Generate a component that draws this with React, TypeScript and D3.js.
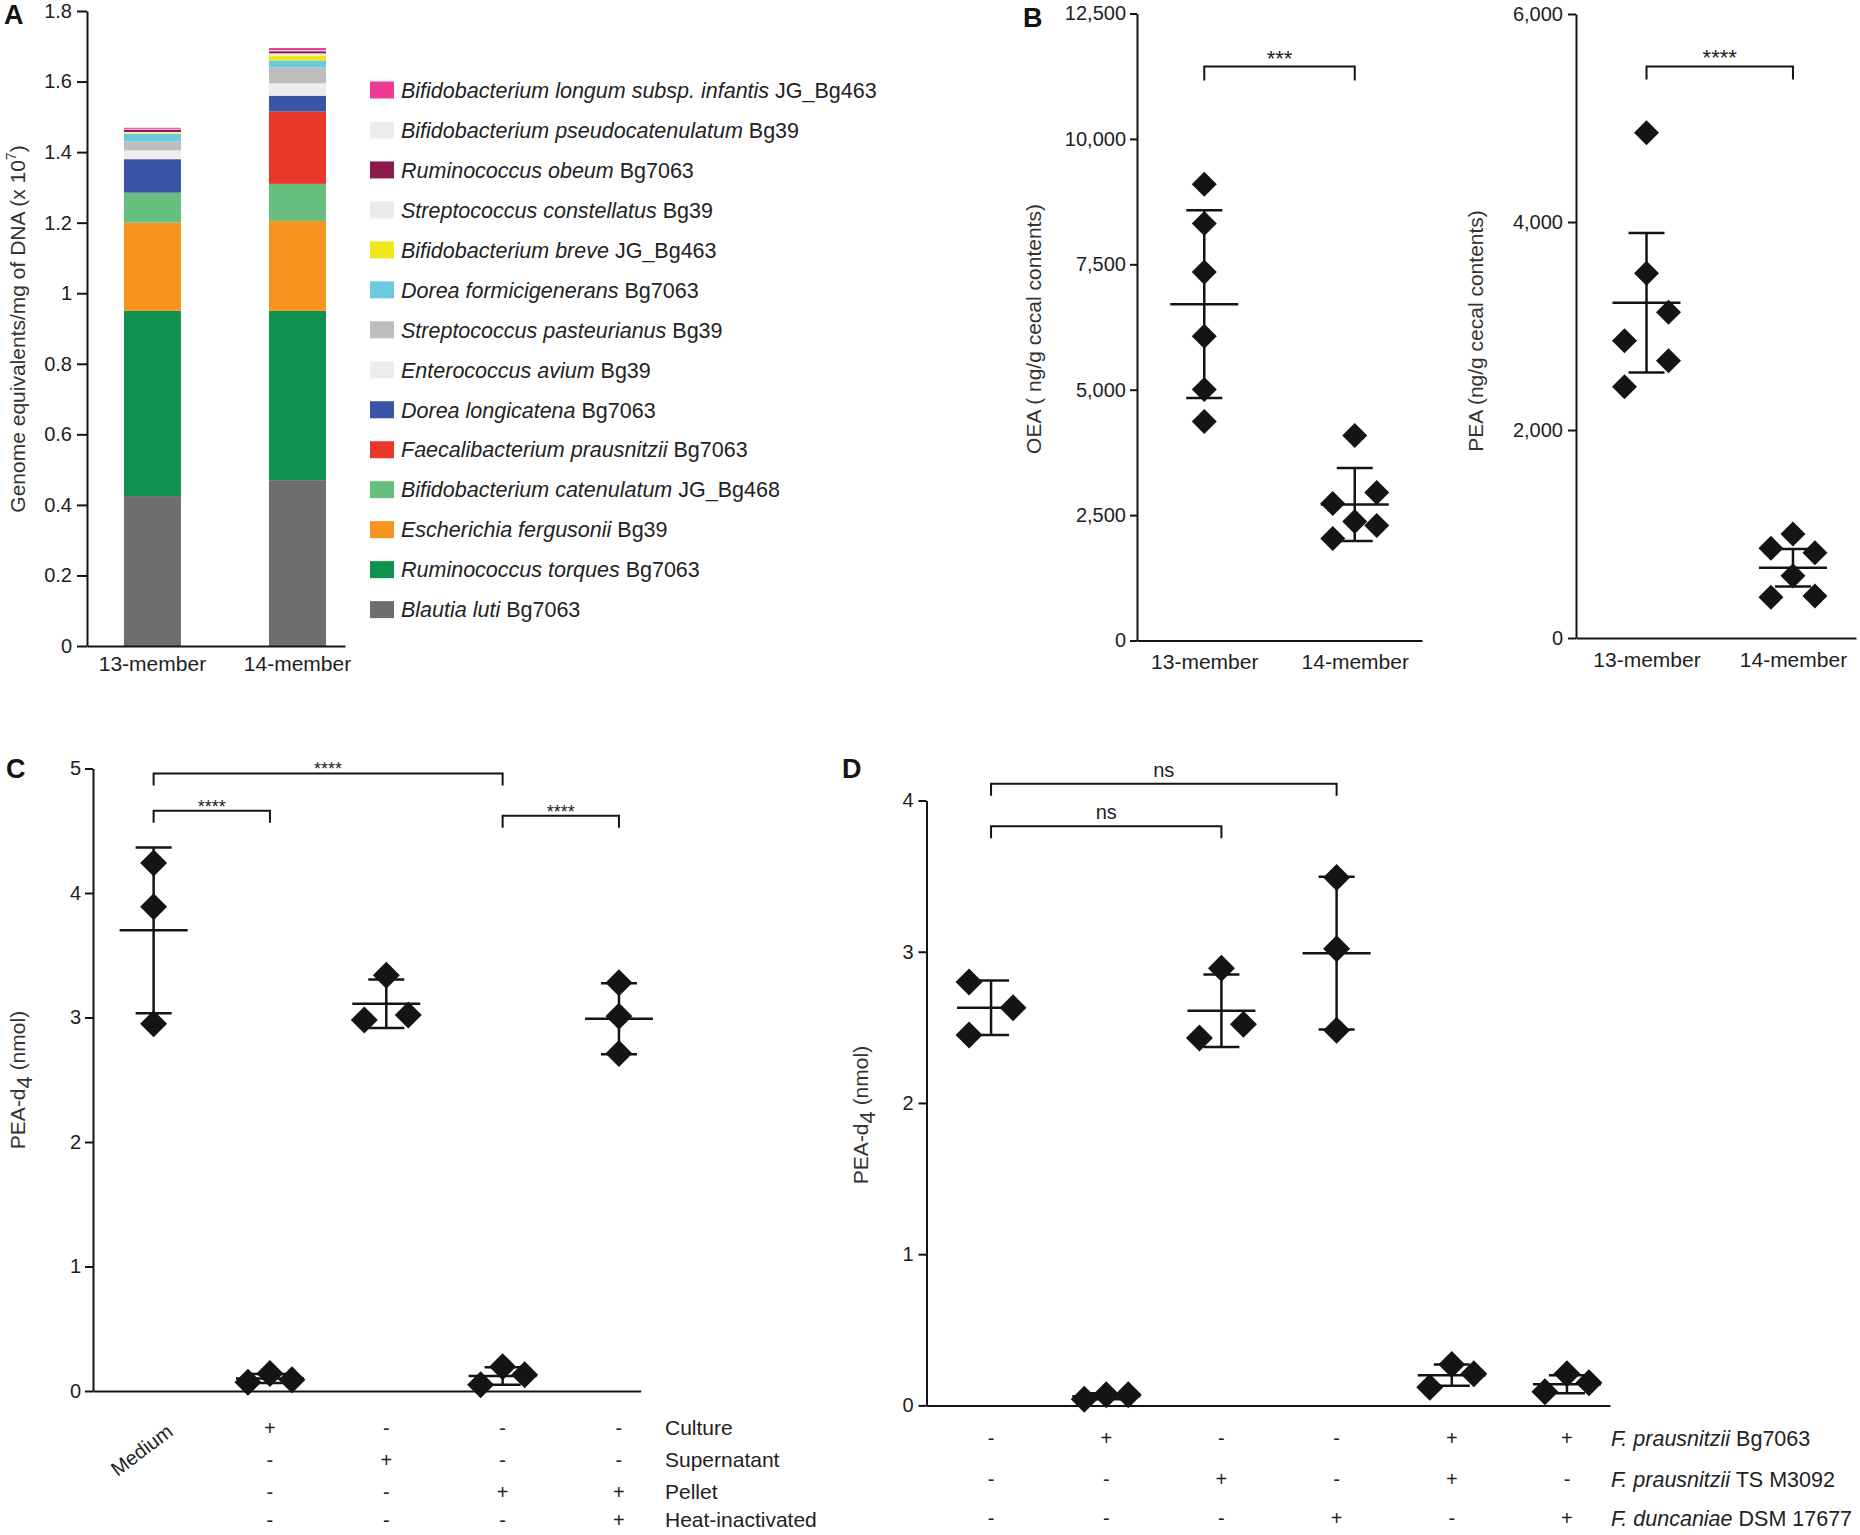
import React, { useEffect, useRef } from "react";
import * as d3 from "d3";

const FONT = "'Liberation Sans', Arial, Helvetica, sans-serif";
const INK = "#141414";

// ---------- panel A : genome equivalents, stacked bottom -> top
const communities = ["13-member", "14-member"];
const taxonSpecies = [
  "Blautia luti",
  "Ruminococcus torques",
  "Escherichia fergusonii",
  "Bifidobacterium catenulatum",
  "Faecalibacterium prausnitzii",
  "Dorea longicatena",
  "Enterococcus avium",
  "Streptococcus pasteurianus",
  "Dorea formicigenerans",
  "Bifidobacterium breve",
  "Streptococcus constellatus",
  "Ruminococcus obeum",
  "Bifidobacterium pseudocatenulatum",
  "Bifidobacterium longum subsp. infantis",
];
const taxonStrains = ["Bg7063", "Bg7063", "Bg39", "JG_Bg468", "Bg7063", "Bg7063", "Bg39", "Bg39", "Bg7063", "JG_Bg463", "Bg39", "Bg7063", "Bg39", "JG_Bg463"];
const taxonColors = ["#6e6e6e", "#0f9150", "#f7941e", "#67bf7f", "#e9372a", "#3a54a6", "#ededed", "#bdbdbd", "#6dcadc", "#f2e71d", "#ebebeb", "#8c1a4b", "#ececec", "#ec3a95"];
const genomes13 = [0.425, 0.525, 0.25, 0.085, 0, 0.095, 0.025, 0.025, 0.022, 0.002, 0.003, 0.007, 0.002, 0.003];
const genomes14 = [0.47, 0.48, 0.255, 0.105, 0.205, 0.045, 0.035, 0.045, 0.02, 0.014, 0.006, 0.006, 0.003, 0.006];
const genomeTicks = [0, 0.2, 0.4, 0.6, 0.8, 1, 1.2, 1.4, 1.6, 1.8];

// ---------- panel B : OEA / PEA in cecal contents
const oeaValues = [
  [9095, 8313, 7344, 6068, 5004, 4366],
  [4087, 2950, 2731, 2372, 2293, 2033],
];
const oeaLanes = [
  [0, 0, 0, 0, 0, 0],
  [0, 1, -1, 0, 1, -1],
];
const oeaMean = [6706, 2711];
const oeaSd = [1870, 728];
const oeaTicks = [0, 2500, 5000, 7500, 10000, 12500];

const peaValues = [
  [4859, 3507, 3132, 2859, 2666, 2416],
  [1000, 862, 820, 599, 391, 404],
];
const peaLanes = [
  [0, 0, 1, -1, 1, -1],
  [0, -1, 1, 0, -1, 1],
];
const peaMean = [3224, 676];
const peaSd = [670, 180];
const peaTicks = [0, 2000, 4000, 6000];

// ---------- panel C : PEA-d4 by fraction
const cGroups = ["Medium", "Culture", "Supernatant", "Pellet", "Pellet heat-inactivated"];
const cValues = [
  [4.24, 3.89, 2.95],
  [0.07, 0.14, 0.09],
  [3.34, 2.98, 3.02],
  [0.05, 0.195, 0.13],
  [3.28, 3.01, 2.71],
];
const cLanes = [
  [0, 0, 0],
  [-1, 0, 1],
  [0, -1, 1],
  [-1, 0, 1],
  [0, 0, 0],
];
const cMean = [3.7, 0.1, 3.11, 0.12, 2.99];
const cSd = [0.665, 0.036, 0.195, 0.07, 0.285];
const cTicks = [0, 1, 2, 3, 4, 5];
const cRowLabels = ["Culture", "Supernatant", "Pellet", "Heat-inactivated"];
const cRowSigns = [
  ["+", "-", "-", "-"],
  ["-", "+", "-", "-"],
  ["-", "-", "+", "+"],
  ["-", "-", "-", "+"],
];
const cBrackets = [
  { a: 0, b: 3, y: 4.96, label: "****" },
  { a: 0, b: 1, y: 4.66, label: "****" },
  { a: 3, b: 4, y: 4.62, label: "****" },
];

// ---------- panel D : PEA-d4 by strain
const dGroups = ["none", "Bg7063", "TS M3092", "DSM 17677", "Bg7063 + TS M3092", "Bg7063 + DSM 17677"];
const dValues = [
  [2.8, 2.63, 2.45],
  [0.04, 0.07, 0.07],
  [2.89, 2.52, 2.43],
  [3.49, 3.02, 2.48],
  [0.12, 0.27, 0.21],
  [0.09, 0.21, 0.15],
];
const dLanes = [
  [-1, 1, -1],
  [-1, 0, 1],
  [0, 1, -1],
  [0, 0, 0],
  [-1, 0, 1],
  [-1, 0, 1],
];
const dMean = [2.63, 0.06, 2.61, 2.99, 0.2, 0.14];
const dSd = [0.18, 0.02, 0.24, 0.505, 0.07, 0.06];
const dTicks = [0, 1, 2, 3, 4];
const dRowSpecies = ["F. prausnitzii", "F. prausnitzii", "F. duncaniae"];
const dRowStrains = ["Bg7063", "TS M3092", "DSM 17677"];
const dRowSigns = [
  ["-", "+", "-", "-", "+", "+"],
  ["-", "-", "+", "-", "+", "-"],
  ["-", "-", "-", "+", "-", "+"],
];
const dBrackets = [
  { a: 0, b: 3, y: 4.11, label: "ns" },
  { a: 0, b: 2, y: 3.83, label: "ns" },
];

const App = () => {
  const ref = useRef<SVGSVGElement>(null);

  useEffect(() => {
    const svg = d3.select(ref.current);
    svg.selectAll("*").remove();

    const styleAxis = (g: any, size = 20) => {
      g.attr("font-family", FONT).attr("font-size", size);
      g.select(".domain").attr("stroke", INK).attr("stroke-width", 2);
      g.selectAll(".tick line").attr("stroke", INK).attr("stroke-width", 2);
      g.selectAll(".tick text").attr("fill", "#1e1e1e");
    };

    const panelLetter = (x: number, y: number, t: string) =>
      svg.append("text").attr("x", x).attr("y", y).attr("font-family", FONT)
        .attr("font-weight", "bold").attr("font-size", 27).attr("fill", INK).text(t);

    const yTitle = (x: number, y: number) =>
      svg.append("text").attr("transform", `translate(${x},${y}) rotate(-90)`)
        .attr("text-anchor", "middle").attr("font-family", FONT).attr("font-size", 21).attr("fill", "#333");

    const diamond = (half: number) => d3.symbol().type(d3.symbolSquare).size(2 * half * half)();

    const drawDots = (g: any, x: any, y: any, groups: string[], values: number[][], lanes: number[][],
      means: number[], sds: number[], half: number) => {
      const lane = 22;
      groups.forEach((grp, i) => {
        const cx = x(grp);
        const m = means[i], s = sds[i];
        const ln = (x1: number, x2: number, y1: number, y2: number) =>
          g.append("line").attr("x1", x1).attr("x2", x2).attr("y1", y1).attr("y2", y2)
            .attr("stroke", INK).attr("stroke-width", 2.5);
        ln(cx, cx, y(m + s), y(m - s));
        ln(cx - 18, cx + 18, y(m + s), y(m + s));
        ln(cx - 18, cx + 18, y(m - s), y(m - s));
        ln(cx - 34, cx + 34, y(m), y(m));
        g.selectAll(null).data(values[i]).enter().append("path")
          .attr("d", diamond(half))
          .attr("transform", (v: number, j: number) => `translate(${cx + lanes[i][j] * lane},${y(v)}) rotate(45)`)
          .attr("fill", INK);
      });
    };

    const bracket = (g: any, xa: number, xb: number, yTop: number, leg: number, label: string, size: number, gap: number) => {
      g.append("path").attr("d", d3.line()([[xa, yTop + leg], [xa, yTop], [xb, yTop], [xb, yTop + leg]]))
        .attr("fill", "none").attr("stroke", INK).attr("stroke-width", 2);
      g.append("text").attr("x", (xa + xb) / 2).attr("y", yTop - gap).attr("text-anchor", "middle")
        .attr("font-family", FONT).attr("font-size", size).attr("fill", "#222").text(label);
    };

    const plain = (d: any) => d3.format("~g")(d);

    // ===================== A
    const yA = d3.scaleLinear().domain([0, 1.8]).range([646, 11]);
    const xA = d3.scaleBand().domain(communities).range([87, 345])
      .paddingInner(0.607).paddingOuter(0.193).align(0.66);
    const rows = communities.map((c, i) => {
      const r: any = { community: c };
      taxonSpecies.forEach((s, k) => (r[s] = (i === 0 ? genomes13 : genomes14)[k]));
      return r;
    });
    const stacked = d3.stack().keys(taxonSpecies)(rows);
    const gA = svg.append("g");
    gA.selectAll("g.layer").data(stacked).enter().append("g").attr("class", "layer")
      .attr("fill", (_d: any, k: number) => taxonColors[k])
      .selectAll("rect").data((d: any) => d).enter().append("rect")
      .attr("x", (d: any) => xA(d.data.community))
      .attr("width", xA.bandwidth())
      .attr("y", (d: any) => yA(d[1]))
      .attr("height", (d: any) => yA(d[0]) - yA(d[1]));

    const axA = gA.append("g").attr("transform", "translate(87,0)")
      .call(d3.axisLeft(yA).tickValues(genomeTicks).tickFormat(plain).tickSize(10).tickPadding(5).tickSizeOuter(0));
    styleAxis(axA);
    const axAx = gA.append("g").attr("transform", "translate(0,646)")
      .call(d3.axisBottom(xA).tickSize(0).tickPadding(10));
    styleAxis(axAx, 21);

    const tA = yTitle(25, 329);
    tA.append("tspan").text("Genome equivalents/mg of DNA (x 10");
    tA.append("tspan").attr("font-size", 14).attr("dy", -9).text("7");
    tA.append("tspan").attr("dy", 9).text(")");
    panelLetter(4, 24, "A");

    // legend, top row = last stacked taxon
    const legend = svg.append("g").attr("transform", "translate(370,90)").attr("font-family", FONT).attr("font-size", 21.5);
    d3.range(taxonSpecies.length).reverse().forEach((k, row) => {
      legend.append("rect").attr("x", 0).attr("y", row * 39.97 - 8.5).attr("width", 24).attr("height", 17).attr("fill", taxonColors[k]);
      const t = legend.append("text").attr("x", 31).attr("y", row * 39.97).attr("dy", "0.36em").attr("fill", "#222");
      t.append("tspan").attr("font-style", "italic").text(taxonSpecies[k]);
      t.append("tspan").text(" " + taxonStrains[k]);
    });

    // ===================== B (OEA)
    const yO = d3.scaleLinear().domain([0, 12500]).range([640.5, 13.5]);
    const xO = d3.scalePoint().domain(communities).range([1137, 1422]).padding(0.447).align(0.5);
    const gO = svg.append("g");
    const axO = gO.append("g").attr("transform", "translate(1137,0)")
      .call(d3.axisLeft(yO).tickValues(oeaTicks).tickFormat(d3.format(",")).tickSize(7).tickPadding(4).tickSizeOuter(0));
    styleAxis(axO);
    const axOx = gO.append("g").attr("transform", "translate(0,640.5)").call(d3.axisBottom(xO).tickSize(0).tickPadding(14));
    styleAxis(axOx, 21);
    drawDots(gO, xO, yO, communities, oeaValues, oeaLanes, oeaMean, oeaSd, 12.5);
    bracket(gO, xO(communities[0])!, xO(communities[1])!, yO(11441), 14, "***", 22, 1);
    yTitle(1041, 329).text("OEA ( ng/g cecal contents)");
    panelLetter(1023, 27, "B");

    // ===================== B (PEA)
    const yP = d3.scaleLinear().domain([0, 6000]).range([638, 14]);
    const xP = d3.scalePoint().domain(communities).range([1576, 1856]).padding(0.456).align(0.528);
    const gP = svg.append("g");
    const axP = gP.append("g").attr("transform", "translate(1576,0)")
      .call(d3.axisLeft(yP).tickValues(peaTicks).tickFormat(d3.format(",")).tickSize(8).tickPadding(5).tickSizeOuter(0));
    styleAxis(axP);
    const axPx = gP.append("g").attr("transform", "translate(0,638)").call(d3.axisBottom(xP).tickSize(0).tickPadding(14));
    styleAxis(axPx, 21);
    drawDots(gP, xP, yP, communities, peaValues, peaLanes, peaMean, peaSd, 12.5);
    bracket(gP, xP(communities[0])!, xP(communities[1])!, yP(5494), 13, "****", 22, 2);
    yTitle(1483, 331).text("PEA (ng/g cecal contents)");

    // ===================== C
    const yC = d3.scaleLinear().domain([0, 5]).range([1391, 768.5]);
    const xC = d3.scalePoint().domain(cGroups).range([93, 640.7]).padding(0.354).align(0.736);
    const gC = svg.append("g");
    const axC = gC.append("g").attr("transform", "translate(93,0)")
      .call(d3.axisLeft(yC).tickValues(cTicks).tickFormat(plain).tickSize(8).tickPadding(4).tickSizeOuter(0));
    styleAxis(axC);
    const axCx = gC.append("g").attr("transform", "translate(0,1391)").call(d3.axisBottom(xC).tickSize(0).tickFormat(() => ""));
    styleAxis(axCx);
    drawDots(gC, xC, yC, cGroups, cValues, cLanes, cMean, cSd, 13.5);
    cBrackets.forEach((b) => bracket(gC, xC(cGroups[b.a])!, xC(cGroups[b.b])!, yC(b.y), 12, b.label, 18, -2));
    const cRowY = [1428, 1460, 1492, 1520];
    const rowsC = gC.append("g").attr("font-family", FONT).attr("font-size", 20).attr("fill", "#222");
    cRowLabels.forEach((lab, r) => {
      cRowSigns[r].forEach((s, c) => rowsC.append("text").attr("x", xC(cGroups[c + 1])!).attr("y", cRowY[r])
        .attr("dy", "0.35em").attr("text-anchor", "middle").text(s));
      rowsC.append("text").attr("x", 665).attr("y", cRowY[r]).attr("dy", "0.35em").attr("font-size", 21).text(lab);
    });
    rowsC.append("text").attr("transform", `translate(${xC(cGroups[0])! - 12},1450) rotate(-37)`)
      .attr("text-anchor", "middle").attr("dy", "0.35em").text("Medium");
    const tC = yTitle(25, 1080);
    tC.append("tspan").text("PEA-d");
    tC.append("tspan").attr("dy", 7).attr("font-size", 22).text("4");
    tC.append("tspan").attr("dy", -7).text(" (nmol)");
    panelLetter(6, 778, "C");

    // ===================== D
    const yD = d3.scaleLinear().domain([0, 4]).range([1405.4, 800.5]);
    const xD = d3.scalePoint().domain(dGroups).range([926.5, 1610]).padding(0.467).align(0.6);
    const gD = svg.append("g");
    const axD = gD.append("g").attr("transform", "translate(926.5,0)")
      .call(d3.axisLeft(yD).tickValues(dTicks).tickFormat(plain).tickSize(8).tickPadding(5).tickSizeOuter(0));
    styleAxis(axD);
    const axDx = gD.append("g").attr("transform", "translate(0,1405.4)").call(d3.axisBottom(xD).tickSize(0).tickFormat(() => ""));
    styleAxis(axDx);
    drawDots(gD, xD, yD, dGroups, dValues, dLanes, dMean, dSd, 13.5);
    dBrackets.forEach((b) => bracket(gD, xD(dGroups[b.a])!, xD(dGroups[b.b])!, yD(b.y), 12, b.label, 20, 7));
    const dRowY = [1438, 1479, 1518];
    const rowsD = gD.append("g").attr("font-family", FONT).attr("font-size", 20).attr("fill", "#222");
    dRowSpecies.forEach((sp, r) => {
      dRowSigns[r].forEach((s, c) => rowsD.append("text").attr("x", xD(dGroups[c])!).attr("y", dRowY[r])
        .attr("dy", "0.35em").attr("text-anchor", "middle").text(s));
      const t = rowsD.append("text").attr("x", 1611).attr("y", dRowY[r]).attr("dy", "0.35em").attr("font-size", 21.5);
      t.append("tspan").attr("font-style", "italic").text(sp);
      t.append("tspan").text(" " + dRowStrains[r]);
    });
    const tD = yTitle(868, 1115);
    tD.append("tspan").text("PEA-d");
    tD.append("tspan").attr("dy", 7).attr("font-size", 22).text("4");
    tD.append("tspan").attr("dy", -7).text(" (nmol)");
    panelLetter(842, 778, "D");
  }, []);

  return (
    <svg ref={ref} width={1860} height={1535}
      style={{ position: "absolute", left: 0, top: 0, background: "#fff" }} />
  );
};

export default App;
